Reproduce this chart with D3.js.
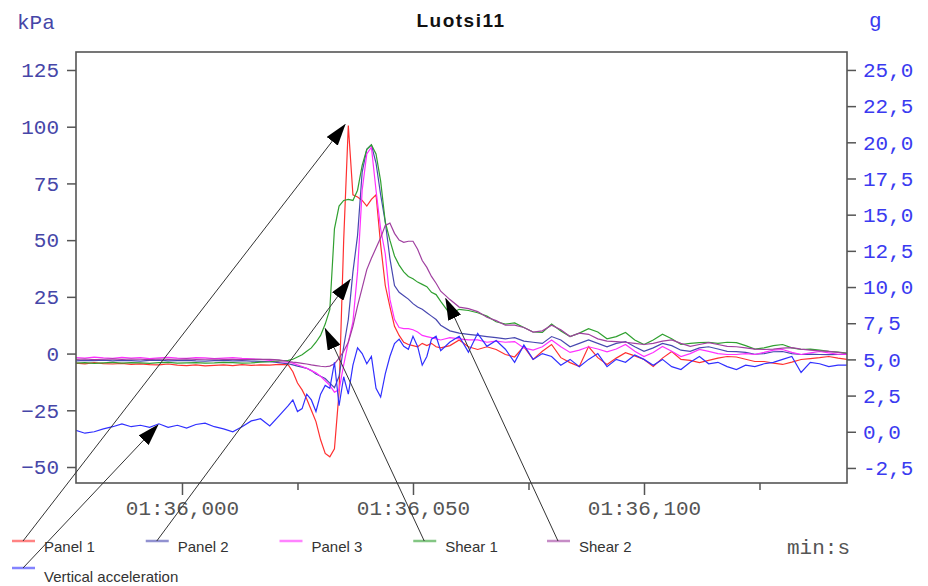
<!DOCTYPE html>
<html>
<head>
<meta charset="utf-8">
<script src="https://cdn.jsdelivr.net/npm/d3@7"></script>
<style>
body { margin: 0; background: #fff; }
</style>
</head>
<body>
<script>
// sample times in ms after 01:36,000
var timeMs = [-23,-21,-19,-17,-15,-13,-11,-9,-7,-5,-3,-1,1,3,5,7,9,11,13,15,17,19,21,
    23,24,25,26,27,28,29,30,31,32,33,34,35,36,37,38,39,40,41,42,43,44,45,46,47,48,49,50,51,52,53,54,55,56,
    58,60,62,64,66,68,70,72,74,76,78,80,82,84,86,88,90,92,94,96,98,100,102,104,106,108,110,112,114,116,118,120,122,124,126,128,130,132,134,136,138,140,142,144];

// pressures, kPa
var panel1 = [-4.2,-4.5,-4.0,-4.4,-4.6,-4.3,-4.8,-4.5,-4.9,-5.0,-4.6,-5.1,-5.3,-5.0,-5.4,-5.2,-5.0,-5.3,-4.9,-5.2,-5.0,-5.1,-4.8,
    -5.0,-8,-13,-16,-20,-25,-30,-38,-44,-45.5,-42,-17,50,100.5,70,69,67.5,65,68,70,48,30,20.7,12,8,5,4,3.5,3,4.5,3.5,4.5,3,2.5,
    3.5,6,3,1.8,3,1.8,-0.4,-1.5,3.1,-2.6,1,4,-1.8,-4,-5.7,3.1,-1.8,-4.8,-2,0.4,-1,-2.6,-5.7,-2,0.9,-2.6,-3,-4,-3,-2,-1.3,-1.5,-2.5,-3.5,-3.5,-4.2,-4.8,-3.8,-2.6,-2.2,-1.8,-1.3,-2,-2.6];

var panel2 = [-3.2,-3.0,-3.1,-2.9,-3.2,-3.0,-3.1,-3.3,-3.0,-2.9,-3.2,-3.1,-3.0,-3.2,-3.3,-3.1,-3.0,-3.2,-3.1,-3.3,-3.4,-3.6,-4.0,
    -4.5,-5,-5.5,-6,-6.5,-7.5,-9,-10,-11,-13,-15,-10,3,15,36,52,80,90,92,84,70,58,42,30,27,25.5,24,22,20.5,19.5,18,16.5,15,12.5,
    10,9,8.5,8,7.5,7,6.5,7,5.5,5,4.5,7.5,6,3,4.5,6,4.5,3,4.5,5.3,3,1,2.5,4.5,3.5,1.5,1,2.5,3,2,1,0.9,0.5,-0.3,0,0.8,0.9,0,-0.4,-0.2,-0.4,-0.5,-0.4,-0.4];

var panel3 = [-1.8,-2.0,-1.6,-1.9,-2.1,-1.7,-2.0,-1.8,-2.2,-1.9,-1.7,-2.0,-2.1,-1.8,-1.9,-2.2,-2.0,-1.8,-2.1,-2.3,-2.6,-3.0,-3.6,
    -3.8,-4.2,-5,-5.7,-6.5,-7.5,-8.5,-10,-12,-14,-17,-16,-5,5,14,36,72,88,91,72,55,44,24,15,11.5,11,11,10.5,9.5,8,7.5,7,6.5,6,
    7,6.5,6,6,5,5.5,5,5.3,2.5,1.5,3,6,3,0.5,1.5,3,2,0.8,2,4,1,-1.3,0.5,3.1,1,-1.3,0,1.8,1,0,-0.4,-0.4,0,-0.4,0.5,1.5,1.8,0.5,-0.4,0.3,0.9,0.3,-0.3,-0.4];

var shear1 = [-4.2,-4.0,-4.3,-4.1,-3.9,-4.2,-4.0,-4.1,-4.3,-4.0,-3.9,-4.2,-4.1,-4.0,-4.2,-4.1,-3.9,-4.0,-4.2,-4.1,-3.8,-3.6,-3.2,
    -3.0,-2.5,-1.5,-0.5,1,2.5,5,8,13,19.5,55,65,67.5,68,67.5,72,83,90,92,88,76,58,50,43,39,36,34,33,31.5,30.5,29.5,27,26,23,
    17.5,19.5,19,18,16.5,14,13,13.5,11.5,9.5,9.3,13,10,7.5,9,11,9.5,6.5,7.5,9.3,6,4,6,8.5,6.5,4,4.5,4.8,5,4.5,5,4.8,3.5,2,2.5,3.5,4,2.5,1.8,2,1.5,1,0.6,0.2];

var shear2 = [-2.6,-2.4,-2.7,-2.5,-2.3,-2.6,-2.4,-2.5,-2.7,-2.4,-2.6,-2.5,-2.3,-2.6,-2.5,-2.4,-2.6,-2.5,-2.7,-2.6,-2.5,-2.6,-2.8,
    -3.5,-3.8,-4,-4.3,-4.6,-5,-5.3,-5.6,-5.8,-5.5,-4.5,-2,1,5,12,21,29,37,42,46.5,51,56.5,57.5,53,50,49,49.5,49.5,46,41,38,34,31,27.5,
    23.8,20.5,19.8,18.5,16,14.5,12.5,12.5,11.5,9.5,10,12.5,10.5,7.5,9,8.5,6.5,5.5,5.3,5,4.5,4,4.5,5.5,6,4.5,3.2,4,4.8,4,3.2,3,2.5,2,1.8,2,2.4,2.6,2,1.5,1.2,1,0.5,0];

// vertical acceleration, g (right axis)
var vertAcc = [0.1,-0.1,0.0,0.2,0.35,0.55,0.35,0.45,0.3,0.55,0.3,0.45,0.25,0.5,0.6,0.35,0.2,0.0,0.35,0.75,0.9,0.4,1.1,
    1.8,2.2,1.4,1.6,2.6,2.2,1.4,2.6,3.2,3.0,4.8,1.8,3.8,2.6,4.6,5.8,5.4,4.7,5.2,3.0,2.4,4.0,5.2,6.1,6.4,5.9,5.7,6.6,5.9,4.6,5.2,6.4,6.6,5.6,
    6.2,6.6,5.5,6.8,5.9,6.3,5.7,4.8,6.0,5.0,5.4,5.2,4.6,5.0,4.5,5.0,5.4,4.5,5.0,4.8,5.3,5.0,4.6,5.0,4.5,4.3,4.8,5.2,4.7,4.8,4.5,4.3,4.6,4.5,4.7,4.8,5.0,5.2,4.1,4.8,4.7,4.5,4.6,4.6];

var seriesNames = ["Panel 1", "Panel 2", "Panel 3", "Shear 1", "Shear 2", "Vertical acceleration"];
var seriesColors = ["#ff3030", "#4848b0", "#ff30ff", "#30a030", "#a040a0", "#3030ff"];
var seriesValues = [panel1, panel2, panel3, shear1, shear2, vertAcc];

var leftTicks = [-50, -25, 0, 25, 50, 75, 100, 125];
var rightTicks = [-2.5, 0, 2.5, 5, 7.5, 10, 12.5, 15, 17.5, 20, 22.5, 25];
var xMajorTicks = [0, 50, 100];
var xMajorLabels = ["01:36,000", "01:36,050", "01:36,100"];
var xMinorTicks = [25, 75, 125];

// arrows from the legend into the chart (target in data units)
var arrowTargets = [
    {name: "Panel 1", t: 35.3, v: 100.9},
    {name: "Panel 2", t: 36.4, v: 32.6},
    {name: "Shear 1", t: 31.0, v: 11.0},
    {name: "Shear 2", t: 57.1, v: 24.2},
    {name: "Vertical acceleration", t: -5.2, v: 0.47}
];

var width = 928, height = 586;
var plotLeft = 76, plotRight = 847, plotTop = 52, plotBottom = 483;

var svg = d3.select("body").append("svg")
    .attr("width", width)
    .attr("height", height)
    .style("font-family", "'Liberation Sans', Arial, sans-serif");

var xScale = d3.scaleLinear().domain([-22.94, 143.94]).range([plotLeft, plotRight]);
var yLeft = d3.scaleLinear().domain([-57.05, 132.93]).range([plotBottom, plotTop]);
var yRight = d3.scaleLinear().domain([-3.54, 26.24]).range([plotBottom, plotTop]);

var mono = "'Liberation Mono', 'Courier New', monospace";
var commaFmt = d3.formatLocale({decimal: ",", thousands: ".", grouping: [3], currency: ["", ""], minus: "-"}).format(".1f");

// title and unit labels
svg.append("text")
    .attr("x", 461).attr("y", 27)
    .attr("text-anchor", "middle")
    .attr("font-weight", "bold")
    .attr("font-size", "19px")
    .attr("letter-spacing", "1.5px")
    .attr("fill", "#111")
    .text("Luotsi11");

svg.append("text")
    .attr("x", 17).attr("y", 29)
    .attr("font-family", mono).attr("font-size", "21px")
    .attr("fill", "#4646a8")
    .text("kPa");

svg.append("text")
    .attr("x", 869).attr("y", 27)
    .attr("font-family", mono).attr("font-size", "21px")
    .attr("fill", "#3a3af0")
    .text("g");

svg.append("text")
    .attr("x", 787).attr("y", 554)
    .attr("font-family", mono).attr("font-size", "21px")
    .attr("fill", "#555")
    .text("min:s");

// clip for the curves
svg.append("clipPath").attr("id", "plotclip")
    .append("rect")
    .attr("x", plotLeft).attr("y", plotTop)
    .attr("width", plotRight - plotLeft).attr("height", plotBottom - plotTop);

var plot = svg.append("g").attr("clip-path", "url(#plotclip)");

seriesValues.forEach(function (vals, i) {
    var yS = (i == 5) ? yRight : yLeft;
    var line = d3.line()
        .x(function (d, j) { return xScale(timeMs[j]); })
        .y(function (d) { return yS(d); });
    plot.append("path")
        .datum(vals)
        .attr("d", line)
        .attr("fill", "none")
        .attr("stroke", seriesColors[i])
        .attr("stroke-width", 1.2);
});

// frame
svg.append("rect")
    .attr("x", plotLeft).attr("y", plotTop)
    .attr("width", plotRight - plotLeft).attr("height", plotBottom - plotTop)
    .attr("fill", "none")
    .attr("stroke", "#555")
    .attr("stroke-width", 1.6);

// axes
var leftAxis = svg.append("g")
    .attr("transform", "translate(" + plotLeft + ",0)")
    .call(d3.axisLeft(yLeft).tickValues(leftTicks).tickSize(9).tickPadding(8));

var rightAxis = svg.append("g")
    .attr("transform", "translate(" + plotRight + ",0)")
    .call(d3.axisRight(yRight).tickValues(rightTicks).tickSize(9).tickPadding(7).tickFormat(commaFmt));

var xAxis = svg.append("g")
    .attr("transform", "translate(0," + plotBottom + ")")
    .call(d3.axisBottom(xScale).tickValues(xMajorTicks).tickSize(12).tickPadding(5)
        .tickFormat(function (d, i) { return xMajorLabels[i]; }));

var xMinor = svg.append("g")
    .attr("transform", "translate(0," + plotBottom + ")")
    .call(d3.axisBottom(xScale).tickValues(xMinorTicks).tickSize(7).tickFormat(""));

[leftAxis, rightAxis, xAxis, xMinor].forEach(function (g) {
    g.select(".domain").remove();
    g.selectAll("line").attr("stroke", "#555").attr("stroke-width", 1.5);
    g.selectAll("text").attr("font-family", mono).attr("font-size", "21px");
});
leftAxis.selectAll("text").attr("fill", "#4646a8");
rightAxis.selectAll("text").attr("fill", "#3a3af0");
xAxis.selectAll("text").attr("fill", "#555");

// legend
var legendPos = seriesNames.map(function (name, i) {
    if (i < 5) return {x: 12 + 133.75 * i, y: 541, ty: 552};
    return {x: 12, y: 568, ty: 582};
});

var legend = svg.selectAll(".legend")
    .data(seriesNames)
    .enter()
    .append("g")
    .attr("class", "legend");

legend.append("line")
    .attr("x1", function (d, i) { return legendPos[i].x; })
    .attr("x2", function (d, i) { return legendPos[i].x + 23; })
    .attr("y1", function (d, i) { return legendPos[i].y; })
    .attr("y2", function (d, i) { return legendPos[i].y; })
    .attr("stroke", function (d, i) { return seriesColors[i]; })
    .attr("stroke-opacity", 0.6)
    .attr("stroke-width", 2.5);

legend.append("text")
    .attr("x", function (d, i) { return legendPos[i].x + 32; })
    .attr("y", function (d, i) { return legendPos[i].ty; })
    .attr("font-size", "15px")
    .attr("fill", "#333")
    .text(function (d) { return d; });

// arrows
svg.append("defs").append("marker")
    .attr("id", "arrowhead")
    .attr("viewBox", "0 0 22 14")
    .attr("refX", 21).attr("refY", 7)
    .attr("markerWidth", 22).attr("markerHeight", 14)
    .attr("markerUnits", "userSpaceOnUse")
    .attr("orient", "auto")
    .append("path")
    .attr("d", "M0,0L22,7L0,14Z")
    .attr("fill", "#000");

svg.selectAll(".arrow")
    .data(arrowTargets)
    .enter()
    .append("line")
    .attr("class", "arrow")
    .attr("x1", function (d) { var p = legendPos[seriesNames.indexOf(d.name)]; return p.x + 11; })
    .attr("y1", function (d) { var p = legendPos[seriesNames.indexOf(d.name)]; return p.y; })
    .attr("x2", function (d) { return xScale(d.t); })
    .attr("y2", function (d) {
        return d.name == "Vertical acceleration" ? yRight(d.v) : yLeft(d.v);
    })
    .attr("stroke", "#333")
    .attr("stroke-width", 1)
    .attr("marker-end", "url(#arrowhead)");
</script>
</body>
</html>
